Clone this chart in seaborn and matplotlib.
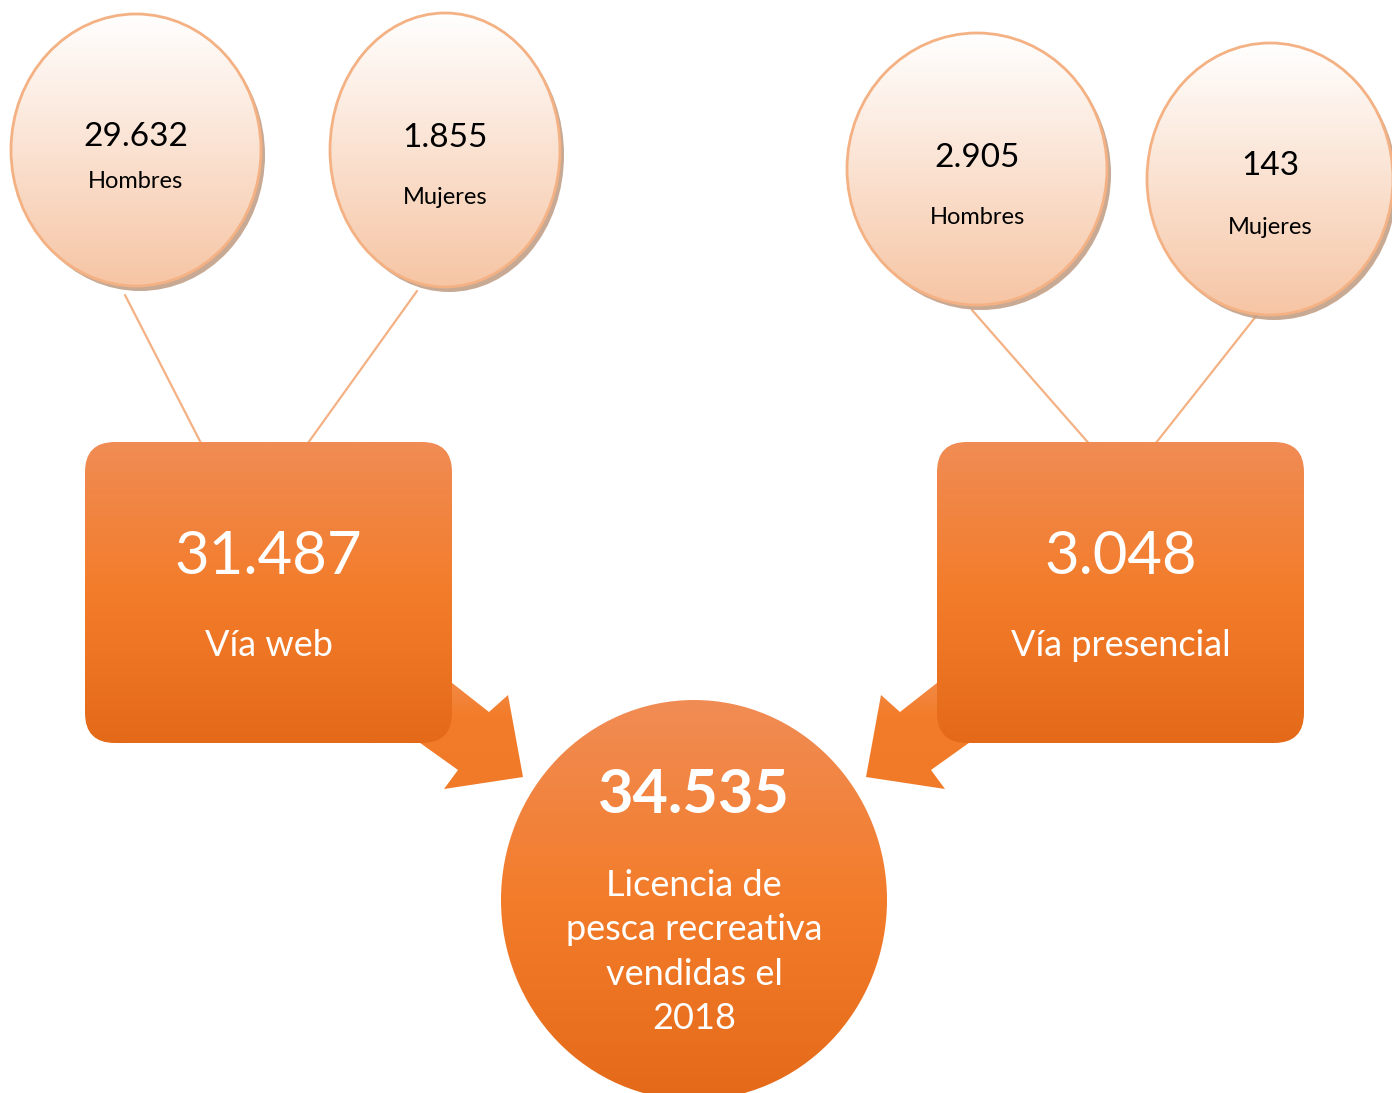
import numpy as np
import matplotlib
matplotlib.use("Agg")
import matplotlib.pyplot as plt
import seaborn as sns
from matplotlib.patches import Ellipse, FancyBboxPatch, Polygon
from matplotlib.colors import LinearSegmentedColormap

# data
canales = ["Vía web", "Vía presencial"]
total_canal = [31487, 3048]
hombres = [29632, 2905]
mujeres = [1855, 143]
total = 34535
total_label = "Licencia de\npesca recreativa\nvendidas el\n2018"
sexo_labels = ["Hombres", "Mujeres"]

sns.set_theme(style="white")
plt.rcParams["font.family"] = ["Lato", "DejaVu Sans"]


def fmt(v):
    return f"{v:,}".replace(",", ".")


# colours
orange_top, orange_mid, orange_bot = "#F08C55", "#F37C2A", "#E46A19"
peach_top, peach_bot = "#FFFFFF", "#F6C5A4"
edge_peach = "#F4B183"
shadow_col = "#BE9A82"

fig = plt.figure(figsize=(13.92, 10.93), dpi=100)
ax = fig.add_axes([0, 0, 1, 1])
W, H = 1392, 1093


def grad(patch, colors, box, z):
    x0, y0, x1, y1 = box
    cmap = LinearSegmentedColormap.from_list("g", colors)
    im = ax.imshow(np.linspace(0, 1, 256).reshape(-1, 1), cmap=cmap,
                   extent=(x0, x1, y1, y0), origin="upper", aspect="auto",
                   zorder=z, interpolation="bilinear")
    im.set_clip_path(patch)


# layout (pixel space)
bubbles = [  # (cx, cy, w, h, num_y, lab_y)
    (136, 150, 250, 272, 137, 182),
    (445, 150, 230, 274, 138, 198),
    (977, 169, 260, 272, 158, 218),
    (1270, 179, 246, 272, 166, 227),
]
links = [((125, 295), (203, 447)), ((417, 291), (308, 443)),
         ((972, 310), (1092, 447)), ((1257, 315), (1148, 453))]
boxes = [(85, 442, 367, 301), (937, 442, 367, 301)]
left_arrow = [(400, 642), (489, 712), (508, 695), (523, 777),
              (444, 789), (458, 770), (360, 700)]

# connector lines
for (a, b) in links:
    ax.plot([a[0], b[0]], [a[1], b[1]], color=edge_peach, lw=1.6, zorder=1)

# arrows
for side in (0, 1):
    pts = left_arrow if side == 0 else [(1389 - x, y) for x, y in left_arrow]
    poly = Polygon(pts, closed=True, facecolor="none", edgecolor="none", zorder=2)
    ax.add_patch(poly)
    xs = [p[0] for p in pts]
    ys = [p[1] for p in pts]
    grad(poly, ["#F09A68", orange_mid, "#F07A28"], (min(xs), min(ys), max(xs), max(ys)), 2)

# channel boxes
for i, (x, y, w, h) in enumerate(boxes):
    p = FancyBboxPatch((x, y), w, h, boxstyle="round,pad=0,rounding_size=30",
                       facecolor="none", edgecolor="none", zorder=3)
    ax.add_patch(p)
    grad(p, [orange_top, orange_mid, orange_bot], (x, y, x + w, y + h), 3)
    cx = x + w / 2
    ax.text(cx, y + 115, fmt(total_canal[i]), color="white", fontsize=43,
            ha="center", va="center", zorder=5)
    ax.text(cx, y + 204, canales[i], color="white", fontsize=26,
            ha="center", va="center", zorder=5)

# top bubbles
values = [hombres[0], mujeres[0], hombres[1], mujeres[1]]
for j, (cx, cy, w, h, ny, ly) in enumerate(bubbles):
    ax.add_patch(Ellipse((cx + 4, cy + 5), w, h, facecolor=shadow_col,
                         edgecolor="none", alpha=0.85, zorder=4))
    e = Ellipse((cx, cy), w, h, facecolor="none", edgecolor="none", zorder=5)
    ax.add_patch(e)
    grad(e, [peach_top, peach_bot], (cx - w / 2, cy - h / 2, cx + w / 2, cy + h / 2), 5)
    ax.add_patch(Ellipse((cx, cy), w, h, facecolor="none", edgecolor=edge_peach,
                         lw=2, zorder=6))
    ax.text(cx, ny, fmt(values[j]), color="black", fontsize=24,
            ha="center", va="center", zorder=7)
    ax.text(cx, ly, sexo_labels[j % 2], color="black", fontsize=17,
            ha="center", va="center", zorder=7)

# total circle
big = Ellipse((694, 900), 386, 400, facecolor="none", edgecolor="none", zorder=3)
ax.add_patch(big)
grad(big, [orange_top, orange_mid, orange_bot], (501, 700, 887, 1100), 3)
ax.text(694, 795, fmt(total), color="white", fontsize=44, fontweight="bold",
        ha="center", va="center", zorder=5)
ax.text(694, 952, total_label, color="white", fontsize=26, ha="center",
        va="center", linespacing=1.42, zorder=5)

ax.set_xlim(0, W)
ax.set_ylim(H, 0)
ax.axis("off")
fig.savefig("out.png", dpi=100, facecolor="white")
